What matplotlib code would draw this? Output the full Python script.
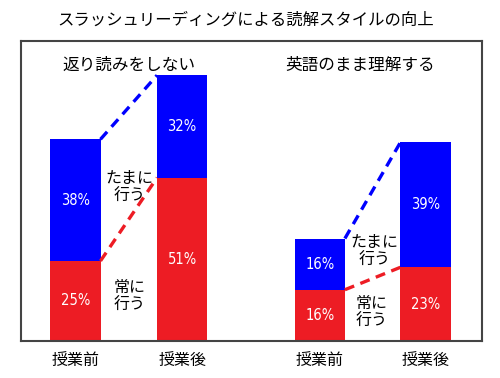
import matplotlib
matplotlib.use("Agg")
from matplotlib import pyplot as plt
import numpy as np

plt.rcParams['font.family'] = ['Noto Sans CJK JP', 'DejaVu Sans']

title = "スラッシュリーディングによる読解スタイルの向上"
groups = ["返り読みをしない", "英語のまま理解する"]
ticklabels = ["授業前", "授業後", "授業前", "授業後"]
always = [25, 51, 16, 23]      # 常に行う
sometimes = [38, 32, 16, 39]   # たまに行う

red = "#ED1C24"
blue = "#0000FF"
pos = np.array([0, 1, 2.29, 3.28])
w = 0.47

fig = plt.figure(figsize=(5, 3.78), dpi=100)
ax = fig.add_axes([0.042, 0.098, 0.922, 0.794])

ax.bar(pos, always, w, color=red)
ax.bar(pos, sometimes, w, bottom=always, color=blue)

for x, a, s in zip(pos, always, sometimes):
    ax.text(x, a / 2, f"{a}%", color="white", ha="center", va="center", fontsize=10.5,
            family="DejaVu Sans", stretch="condensed")
    ax.text(x, a + s / 2, f"{s}%", color="white", ha="center", va="center", fontsize=10.5,
            family="DejaVu Sans", stretch="condensed")

# connectors between before/after
for i in (0, 2):
    x0, x1 = pos[i] + w / 2, pos[i + 1] - w / 2
    ax.plot([x0, x1], [always[i], always[i + 1]], color=red, lw=2.4, ls=(0, (3, 2)))
    tot0 = always[i] + sometimes[i]
    tot1 = always[i + 1] + sometimes[i + 1]
    ax.plot([x0, x1], [tot0, tot1], color=blue, lw=2.4, ls=(0, (3, 2)))

kw = dict(ha="center", va="center", fontsize=11.5, linespacing=1.05)
ax.text(0.51, 48, "たまに\n行う", **kw)
ax.text(0.51, 14, "常に\n行う", **kw)
ax.text(2.80, 28, "たまに\n行う", **kw)
ax.text(2.78, 9, "常に\n行う", **kw)

ax.text(0.5, 86, groups[0], ha="center", va="center", fontsize=12)
ax.text(2.67, 86, groups[1], ha="center", va="center", fontsize=12)

ax.set_xlim(-0.51, 3.81)
ax.set_ylim(0, 93.75)
ax.set_xticks(pos)
ax.set_xticklabels(ticklabels, fontsize=11.5)
ax.tick_params(axis="x", length=0, pad=8)
ax.set_yticks([])
for sp in ax.spines.values():
    sp.set_color("#444444")
    sp.set_linewidth(1.5)

fig.text(0.492, 0.947, title, ha="center", va="center", fontsize=11.8)

fig.savefig("out.png", dpi=100)
